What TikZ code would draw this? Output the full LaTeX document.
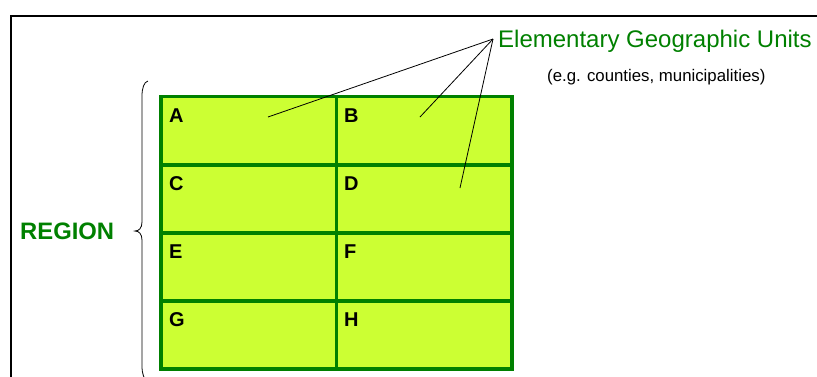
\documentclass[tikz,border=0pt]{standalone}
\usepackage{fontspec}
\setmainfont{Liberation Sans}
\definecolor{gridgreen}{RGB}{0,128,0}
\definecolor{cellfill}{RGB}{204,255,51}
\begin{document}
\begin{tikzpicture}[x=1pt,y=-1pt,
 cellbox/.style={draw=gridgreen, fill=cellfill, line width=3.8pt, minimum width=175.5pt, minimum height=68.1pt, inner sep=0pt},
 letter/.style={anchor=base west, font=\fontsize{20}{20}\selectfont\bfseries, inner sep=0pt},
 pointer/.style={draw=black, line width=0.8pt},
 greentext/.style={anchor=base west, text=gridgreen, inner sep=0pt}]
\useasboundingbox (0,0) rectangle (817,376);
\draw[line width=2pt] (11,400) -- (11,16) -- (830,16);
% cells
\node[cellbox] (cA) at (248.75,130.55) {};
\node[cellbox] (cB) at (424.25,130.55) {};
\node[cellbox] (cC) at (248.75,198.65) {};
\node[cellbox] (cD) at (424.25,198.65) {};
\node[cellbox] (cE) at (248.75,266.75) {};
\node[cellbox] (cF) at (424.25,266.75) {};
\node[cellbox] (cG) at (248.75,334.85) {};
\node[cellbox] (cH) at (424.25,334.85) {};
% letters
\node[letter] (lA) at (169,122) {A};
\node[letter] (lB) at (344,122) {B};
\node[letter] (lC) at (169,190.1) {C};
\node[letter] (lD) at (344,190.1) {D};
\node[letter] (lE) at (169,258.2) {E};
\node[letter] (lF) at (344,258.2) {F};
\node[letter] (lG) at (169,326.3) {G};
\node[letter] (lH) at (344,326.3) {H};
% titles
\node[greentext, font=\fontsize{24}{24}\selectfont] (title) at (498,47) {Elementary Geographic Units};
\node[anchor=base west, inner sep=0pt, font=\fontsize{16.8}{17}\selectfont] (sub) at (547,81) {(e.g. counties, municipalities)};
\node[greentext, font=\fontsize{23.8}{24}\selectfont\bfseries] (region) at (20,239) {REGION};
% pointers
\coordinate (hub) at (493,39);
\coordinate (pA) at (268,117);
\coordinate (pB) at (420,117);
\coordinate (pD) at (460,188);
\draw[pointer] (hub) -- (pA);
\draw[pointer] (hub) -- (pB);
\draw[pointer] (hub) -- (pD);
% brace
\draw[line width=0.8pt] (148,81) .. controls (144,82) and (142,88) .. (142,96) -- (142,222) .. controls (142,228) and (139,231) .. (135,231) .. controls (139,231) and (142,234) .. (142,240) -- (142,366) .. controls (142,374) and (144,380) .. (148,381);
\end{tikzpicture}
\end{document}
